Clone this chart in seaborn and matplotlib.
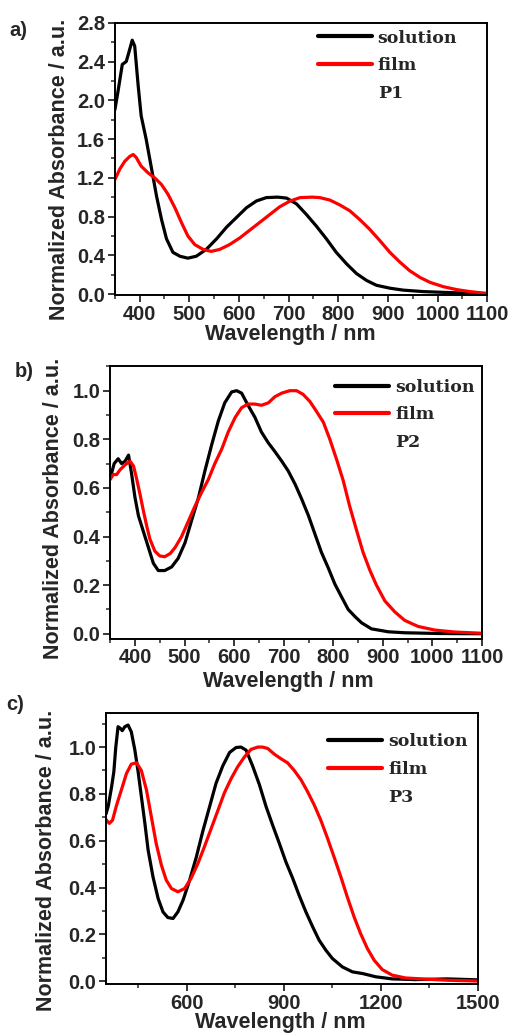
import numpy as np
import pandas as pd
import seaborn as sns
import matplotlib.pyplot as plt
from matplotlib.lines import Line2D
from matplotlib.ticker import MultipleLocator, FormatStrFormatter

# ---- panel a (P1) ----
wl_a_sol = [350, 356, 365, 373, 378, 385, 390, 397, 403, 413, 423, 434, 444, 454, 467, 481, 497,
            514, 534, 555, 575, 595, 615, 635, 655, 678, 696, 716, 736, 756, 776, 796, 817, 837,
            857, 877, 904, 931, 971, 1012, 1052, 1100]
ab_a_sol = [1.90, 2.08, 2.37, 2.40, 2.49, 2.62, 2.56, 2.15, 1.84, 1.60, 1.32, 1.01, 0.77, 0.57,
            0.43, 0.39, 0.37, 0.39, 0.46, 0.57, 0.69, 0.79, 0.89, 0.96, 0.995, 1.0, 0.99, 0.93,
            0.82, 0.70, 0.57, 0.43, 0.31, 0.21, 0.14, 0.09, 0.06, 0.04, 0.025, 0.017, 0.01, 0.005]
wl_a_film = [350, 360, 370, 380, 387, 393, 403, 417, 430, 444, 457, 471, 484, 497, 511, 528, 544,
             561, 581, 602, 622, 642, 662, 682, 703, 723, 748, 763, 783, 803, 823, 843, 863, 884,
             904, 924, 944, 965, 985, 1012, 1039, 1065, 1100]
ab_a_film = [1.18, 1.29, 1.37, 1.42, 1.44, 1.41, 1.32, 1.25, 1.20, 1.13, 1.03, 0.89, 0.74, 0.60,
             0.51, 0.46, 0.44, 0.46, 0.51, 0.58, 0.66, 0.74, 0.82, 0.90, 0.96, 0.995, 1.0, 0.995,
             0.97, 0.92, 0.86, 0.77, 0.67, 0.55, 0.43, 0.33, 0.24, 0.17, 0.12, 0.075, 0.045, 0.025,
             0.005]

# ---- panel b (P2) ----
wl_b_sol = [350, 358, 366, 373, 380, 387, 393, 400, 407, 417, 427, 437, 447, 460, 474, 487, 501,
            514, 528, 541, 555, 568, 581, 595, 605, 615, 628, 642, 655, 669, 682, 696, 709, 723,
            736, 750, 763, 776, 790, 803, 817, 830, 844, 857, 877, 911, 944, 1012, 1100]
ab_b_sol = [0.64, 0.70, 0.72, 0.70, 0.71, 0.735, 0.66, 0.56, 0.485, 0.42, 0.355, 0.29, 0.26, 0.26,
            0.275, 0.31, 0.375, 0.465, 0.56, 0.67, 0.78, 0.875, 0.95, 0.995, 1.0, 0.99, 0.94,
            0.89, 0.83, 0.785, 0.75, 0.71, 0.67, 0.615, 0.555, 0.485, 0.41, 0.335, 0.27, 0.205,
            0.15, 0.10, 0.07, 0.045, 0.02, 0.008, 0.004, 0.001, 0.0]
wl_b_film = [350, 356, 363, 370, 380, 390, 397, 403, 410, 417, 424, 430, 440, 450, 460, 471, 481,
             494, 508, 521, 534, 548, 561, 575, 588, 602, 615, 628, 642, 655, 669, 682, 696, 712,
             726, 739, 753, 766, 780, 793, 807, 820, 833, 847, 860, 874, 887, 904, 924, 944, 971,
             1005, 1045, 1100]
ab_b_film = [0.635, 0.655, 0.655, 0.675, 0.695, 0.71, 0.69, 0.64, 0.575, 0.505, 0.44, 0.39, 0.34,
             0.32, 0.317, 0.33, 0.355, 0.40, 0.465, 0.525, 0.58, 0.635, 0.70, 0.76, 0.83, 0.89,
             0.93, 0.945, 0.945, 0.94, 0.95, 0.975, 0.99, 1.0, 1.0, 0.985, 0.955, 0.915, 0.87,
             0.80, 0.715, 0.63, 0.525, 0.425, 0.335, 0.26, 0.20, 0.135, 0.09, 0.055, 0.03, 0.015,
             0.007, 0.002]

# ---- panel c (P3) ----
wl_c_sol = [350, 357, 367, 374, 380, 387, 394, 400, 408, 418, 428, 439, 449, 459, 470, 480, 495,
            511, 526, 541, 557, 572, 588, 608, 629, 649, 670, 690, 711, 732, 752, 767, 783, 803,
            824, 845, 865, 886, 906, 927, 947, 968, 989, 1009, 1030, 1050, 1081, 1112, 1143, 1184,
            1235, 1307, 1405, 1500]
ab_c_sol = [0.715, 0.75, 0.83, 0.895, 1.0, 1.087, 1.08, 1.07, 1.087, 1.094, 1.065, 0.987, 0.895,
            0.79, 0.674, 0.56, 0.446, 0.353, 0.296, 0.272, 0.268, 0.296, 0.346, 0.43, 0.53, 0.64,
            0.745, 0.845, 0.92, 0.977, 0.998, 1.0, 0.987, 0.92, 0.84, 0.745, 0.667, 0.588, 0.51,
            0.44, 0.367, 0.296, 0.232, 0.175, 0.132, 0.097, 0.061, 0.04, 0.033, 0.019, 0.01,
            0.007, 0.01, 0.006]
wl_c_film = [350, 360, 370, 382, 398, 413, 428, 444, 459, 475, 490, 505, 521, 536, 552, 572, 593,
             613, 634, 654, 675, 696, 716, 737, 757, 778, 798, 819, 834, 850, 870, 891, 911, 932,
             953, 973, 994, 1014, 1035, 1055, 1076, 1096, 1117, 1137, 1158, 1179, 1204, 1235, 1276,
             1338, 1410, 1500]
ab_c_film = [0.69, 0.674, 0.688, 0.75, 0.82, 0.887, 0.927, 0.933, 0.90, 0.816, 0.702, 0.588, 0.496,
             0.432, 0.396, 0.382, 0.396, 0.44, 0.503, 0.574, 0.652, 0.73, 0.805, 0.866, 0.916,
             0.958, 0.99, 1.0, 1.0, 0.994, 0.97, 0.95, 0.933, 0.90, 0.86, 0.81, 0.752, 0.688, 0.61,
             0.531, 0.446, 0.36, 0.275, 0.204, 0.14, 0.09, 0.05, 0.026, 0.014, 0.009, 0.004, 0.001]

sns.set_theme(style="ticks")
plt.rcParams['font.family'] = ['Liberation Sans', 'DejaVu Sans']
plt.rcParams['font.weight'] = 'bold'

fig = plt.figure(figsize=(5.15, 10.35), dpi=100)

panels = [
    # rect, data, ylim, ymajor, yminor, xlim, xmajor, xminor, tag, name, legend anchor, label coords
    dict(rect=[0.223, 0.715, 0.723, 0.263], sol=(wl_a_sol, ab_a_sol), film=(wl_a_film, ab_a_film),
         ylim=(-0.01, 2.8), ymaj=0.4, ymin=0.2, xlim=(350, 1100), xmaj=100, xmin=50,
         tag="a)", tagpos=(0.018, 0.971), name="P1", leg=(0.545, 0.975),
         ylab=(-0.148, 0.46), xlab=(0.47, -0.147)),
    dict(rect=[0.214, 0.383, 0.722, 0.263], sol=(wl_b_sol, ab_b_sol), film=(wl_b_film, ab_b_film),
         ylim=(-0.02, 1.1), ymaj=0.2, ymin=0.1, xlim=(350, 1100), xmaj=100, xmin=50,
         tag="b)", tagpos=(0.028, 0.641), name="P2", leg=(0.605, 0.955),
         ylab=(-0.153, 0.48), xlab=(0.478, -0.158)),
    dict(rect=[0.206, 0.049, 0.722, 0.262], sol=(wl_c_sol, ab_c_sol), film=(wl_c_film, ab_c_film),
         ylim=(-0.013, 1.145), ymaj=0.2, ymin=0.1, xlim=(350, 1500), xmaj=300, xmin=150,
         tag="c)", tagpos=(0.012, 0.319), name="P3", leg=(0.598, 0.925),
         ylab=(-0.159, 0.458), xlab=(0.468, -0.14)),
]

for p in panels:
    ax = fig.add_axes(p["rect"])
    df_sol = pd.DataFrame({"wl": p["sol"][0], "abs": p["sol"][1]})
    df_film = pd.DataFrame({"wl": p["film"][0], "abs": p["film"][1]})
    sns.lineplot(data=df_sol, x="wl", y="abs", ax=ax, color="black", lw=2.3,
                 estimator=None, sort=False, solid_joinstyle="round", solid_capstyle="round")
    sns.lineplot(data=df_film, x="wl", y="abs", ax=ax, color="#ff0000", lw=2.3,
                 estimator=None, sort=False, solid_joinstyle="round", solid_capstyle="round")

    ax.set_xlim(*p["xlim"])
    ax.set_ylim(*p["ylim"])
    ax.xaxis.set_major_locator(MultipleLocator(p["xmaj"]))
    ax.xaxis.set_minor_locator(MultipleLocator(p["xmin"]))
    ax.yaxis.set_major_locator(MultipleLocator(p["ymaj"]))
    ax.yaxis.set_minor_locator(MultipleLocator(p["ymin"]))
    ax.yaxis.set_major_formatter(FormatStrFormatter("%.1f"))
    if p["xlim"][0] == 350:
        ax.set_xticks([t for t in ax.get_xticks() if t >= 400 and t <= p["xlim"][1]])
    ax.tick_params(which="major", direction="out", length=5, width=1.3, labelsize=14.5, pad=2)
    ax.tick_params(which="minor", direction="out", length=3, width=1.1)
    for s in ax.spines.values():
        s.set_linewidth(1.4)
        s.set_color("black")
    for lab in ax.get_xticklabels() + ax.get_yticklabels():
        lab.set_fontweight("bold")

    ax.set_xlabel("Wavelength / nm", fontsize=15.5, fontweight="bold", labelpad=0)
    ax.set_ylabel("Normalized Absorbance / a.u.", fontsize=15.5, fontweight="bold", labelpad=0)
    ax.xaxis.set_label_coords(*p["xlab"])
    ax.yaxis.set_label_coords(*p["ylab"])
    ax.xaxis.label.set_verticalalignment("center")
    ax.yaxis.label.set_verticalalignment("center")

    handles = [Line2D([], [], color="black", lw=3),
               Line2D([], [], color="#ff0000", lw=3),
               Line2D([], [], color="none", lw=0)]
    ax.legend(handles, ["solution", "film", p["name"]], loc="upper left",
              bbox_to_anchor=p["leg"], frameon=False, handlelength=3.1,
              handletextpad=0.35, labelspacing=0.62, borderpad=0, borderaxespad=0,
              prop={"family": "DejaVu Serif", "weight": "bold", "size": 12.5})

    fig.text(p["tagpos"][0], p["tagpos"][1], p["tag"], fontsize=14.5, fontweight="bold",
             va="center", ha="left")

fig.savefig("out.png", dpi=100)
